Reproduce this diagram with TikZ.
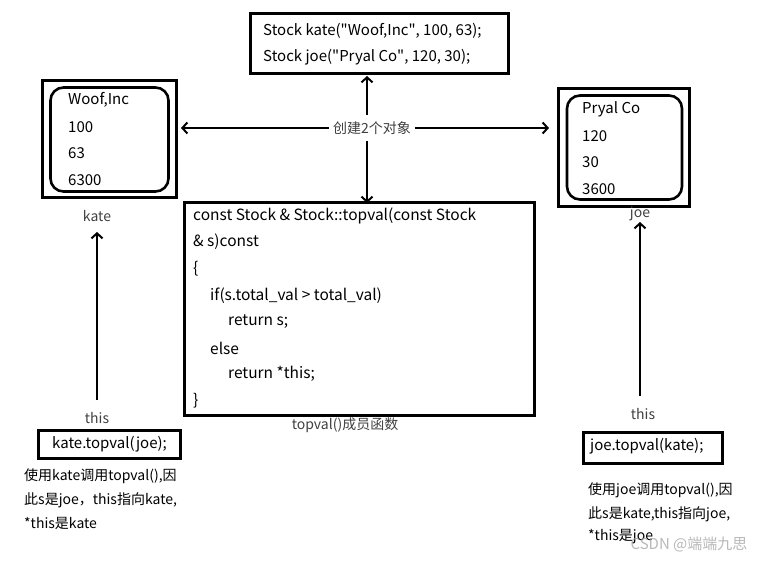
\documentclass[tikz,border=0pt]{standalone}
\usepackage{fontspec}
\setmainfont{Noto Sans CJK SC}
\newfontfamily\qfont{Noto Sans CJK SC}
\usetikzlibrary{arrows.meta}
\newcommand{\dq}{{\qfont\symbol{34}}}
\begin{document}
\begin{tikzpicture}[x=1pt,y=-1pt,
  box/.style={draw=black,line width=3pt,inner sep=0pt},
  rbox/.style={draw=black,line width=2.6pt,rounded corners=13pt,inner sep=0pt},
  txt/.style={anchor=west,inner sep=0pt,font=\fontsize{15}{17}\selectfont},
  codetxt/.style={anchor=west,inner sep=0pt,font=\fontsize{15.5}{17}\selectfont},
  captxt/.style={inner sep=0pt,font=\fontsize{14}{16}\selectfont,text=black!75},
  note/.style={anchor=west,inner sep=0pt,font=\fontsize{14}{16}\selectfont},
  arr/.style={line width=2pt,-{Straight Barb[length=5pt,width=11pt,line width=2pt]}},
  darr/.style={line width=2pt,{Straight Barb[length=5pt,width=11pt,line width=2pt]}-{Straight Barb[length=5pt,width=11pt,line width=2pt]}}
]
\useasboundingbox (0,0) rectangle (772,564);
% top box
\node[box,minimum width=258pt,minimum height=60pt] (top) at (379,44) {};
\node[txt] (t1) at (263,31) {Stock kate(\dq Woof,Inc\dq, 100, 63);};
\node[txt] (t2) at (263,57) {Stock joe(\dq Pryal Co\dq, 120, 30);};
% left object
\node[box,minimum width=134pt,minimum height=117pt] (L) at (109.5,139) {};
\node[rbox,minimum width=118pt,minimum height=104pt] (Li) at (109.5,139.5) {};
\node[txt] (l1) at (68,100) {Woof,Inc};
\node[txt] (l2) at (68,127) {100};
\node[txt] (l3) at (68,153) {63};
\node[txt] (l4) at (68,180) {6300};
\node[captxt] (kate) at (97,216) {kate};
% right object
\node[box,minimum width=131pt,minimum height=118pt] (R) at (624,147.5) {};
\node[rbox,minimum width=115pt,minimum height=104pt] (Ri) at (624.5,147.5) {};
\node[txt] (r1) at (582,109) {Pryal Co};
\node[txt] (r2) at (582,136) {120};
\node[txt] (r3) at (582,162) {30};
\node[txt] (r4) at (582,189) {3600};
\node[captxt] (joe) at (640,214) {joe};
% center box
\node[box,minimum width=350pt,minimum height=212pt] (C) at (359,309) {};
\node[codetxt] (c1) at (193,216) {const Stock \& Stock::topval(const Stock};
\node[codetxt] (c2) at (193,242) {\& s)const};
\node[codetxt] (c3) at (193,269) {\{};
\node[codetxt] (c4) at (210,296) {if(s.total\_val > total\_val)};
\node[codetxt] (c5) at (228,322) {return s;};
\node[codetxt] (c6) at (210,348) {else};
\node[codetxt] (c7) at (228,374) {return *this;};
\node[codetxt] (c8) at (193,401) {\}};
\node[captxt] (fn) at (345,425) {topval()成员函数};
% connectors
\coordinate (vt) at (367,76);
\coordinate (vb) at (367,203);
\draw[darr] (vt) -- (vb);
\node[captxt,fill=white,inner xsep=4pt,inner ysep=7pt] (lab) at (372,128) {创建2个对象};
\coordinate (la) at (181,128);
\coordinate (ra) at (549,128);
\draw[arr] (lab.west) -- (la);
\draw[arr] (lab.east) -- (ra);
% left call
\coordinate (lbot) at (97,400);
\coordinate (ltop) at (97,232);
\draw[arr] (lbot) -- (ltop);
\node[captxt] (thisL) at (97,418) {this};
\node[box,minimum width=142pt,minimum height=28pt] (kc) at (109,444) {};
\node[txt] (kct) at (52,444) {kate.topval(joe);};
\node[note] (n1) at (24,476) {使用kate调用topval(),因};
\node[note] (n2) at (24,500) {此s是joe，this指向kate,};
\node[note] (n3) at (24,523) {*this是kate};
% right call
\coordinate (rbot) at (640,396);
\coordinate (rtop) at (640,222);
\draw[arr] (rbot) -- (rtop);
\node[captxt] (thisR) at (643,414) {this};
\node[box,minimum width=139pt,minimum height=31pt] (jc) at (652.5,448) {};
\node[txt] (jct) at (590,446) {joe.topval(kate);};
\node[note] (m1) at (588,490) {使用joe调用topval(),因};
\node[note] (m2) at (588,514) {此s是kate,this指向joe,};
\node[note] (m3) at (588,537) {*this是joe};
\node[inner sep=0pt,font=\fontsize{15}{17}\selectfont,text=black!35,opacity=0.8] (wm) at (689,545) {CSDN @端端九思};
\end{tikzpicture}
\end{document}
